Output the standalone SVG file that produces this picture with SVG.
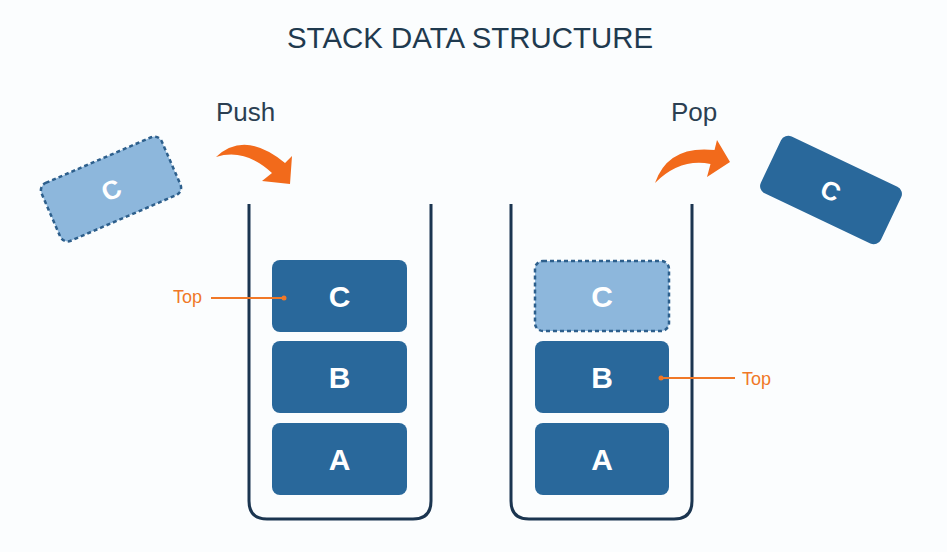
<svg xmlns="http://www.w3.org/2000/svg" width="947" height="552" viewBox="0 0 947 552">
<style>
  .title{font-family:"Liberation Sans",Arial,sans-serif;font-size:29px;fill:#1f3a4f;}
  .op{font-family:"Liberation Sans",Arial,sans-serif;font-size:26px;fill:#2b3f52;}
  .top{font-family:"Liberation Sans",Arial,sans-serif;font-size:18px;fill:#f07828;}
  .lbl{font-family:"Liberation Sans",Arial,sans-serif;font-size:30px;font-weight:bold;fill:#ffffff;text-anchor:middle;}
  .box{fill:#29689b;}
  .ghost{fill:#8db7dc;stroke:#2d5f8c;stroke-width:2.5;stroke-dasharray:4 3;}
  .cont{fill:none;stroke:#1b3550;stroke-width:3;}
  .arrow{fill:#f26a1b;}
  .pointer{stroke:#f07828;stroke-width:2;fill:none;}
  .dot{fill:#f07828;}
</style>
<rect width="947" height="552" fill="#fbfdfe"/>
<text class="title" x="287" y="48" textLength="366" lengthAdjust="spacingAndGlyphs">STACK DATA STRUCTURE</text>

<g id="push-label"><text class="op" x="216" y="121">Push</text></g>
<g id="pop-label"><text class="op" x="671" y="121">Pop</text></g>

<g id="push-stack">
  <path class="cont" d="M249,204 V501 Q249,519 267,519 H413 Q431,519 431,501 V204"/>
</g>
<g id="pop-stack">
  <path class="cont" d="M511,204 V501 Q511,519 529,519 H674 Q692,519 692,501 V204"/>
</g>

<g id="push-C"><rect class="box" x="272" y="260" width="135" height="72" rx="8"/><text class="lbl" x="339.5" y="307">C</text></g>
<g id="push-B"><rect class="box" x="272" y="341" width="135" height="72" rx="8"/><text class="lbl" x="339.5" y="388">B</text></g>
<g id="push-A"><rect class="box" x="272" y="423" width="135" height="72" rx="8"/><text class="lbl" x="339.5" y="470">A</text></g>

<g id="pop-C"><rect class="ghost" x="535" y="261" width="134" height="70" rx="8"/><text class="lbl" x="602" y="307">C</text></g>
<g id="pop-B"><rect class="box" x="535" y="341" width="134" height="72" rx="8"/><text class="lbl" x="602" y="388">B</text></g>
<g id="pop-A"><rect class="box" x="535" y="423" width="134" height="72" rx="8"/><text class="lbl" x="602" y="470">A</text></g>

<g id="incoming-C" transform="translate(111,189) rotate(-23.4)">
  <rect class="ghost" x="-65.5" y="-31.5" width="131" height="63" rx="8"/>
  <text class="lbl" x="0" y="10" style="font-size:26px">C</text>
</g>
<g id="outgoing-C" transform="translate(831,190) rotate(25.4)">
  <rect class="box" x="-66.5" y="-31.5" width="133" height="63" rx="8"/>
  <text class="lbl" x="0" y="10" style="font-size:26px">C</text>
</g>

<g id="top-left">
  <text class="top" x="173" y="303">Top</text>
</g>
<g id="top-right">
  <text class="top" x="742" y="385">Top</text>
</g>

<g id="connectors">
  <path class="arrow" d="M216,157 Q245,130 285,163 L292,156 L290,184 L262,181 L272,173 Q245,148 216,157 Z"/>
  <path class="arrow" d="M655,183 Q668,145 714.5,150 L717,140 L730,162 L707,177 L710.5,164 Q680,158 655,183 Z"/>
  <line class="pointer" x1="211" y1="298" x2="283" y2="298"/>
  <circle class="dot" cx="284" cy="298" r="2.5"/>
  <line class="pointer" x1="661" y1="378" x2="735" y2="378"/>
  <circle class="dot" cx="661" cy="378" r="2.5"/>
</g>
</svg>
